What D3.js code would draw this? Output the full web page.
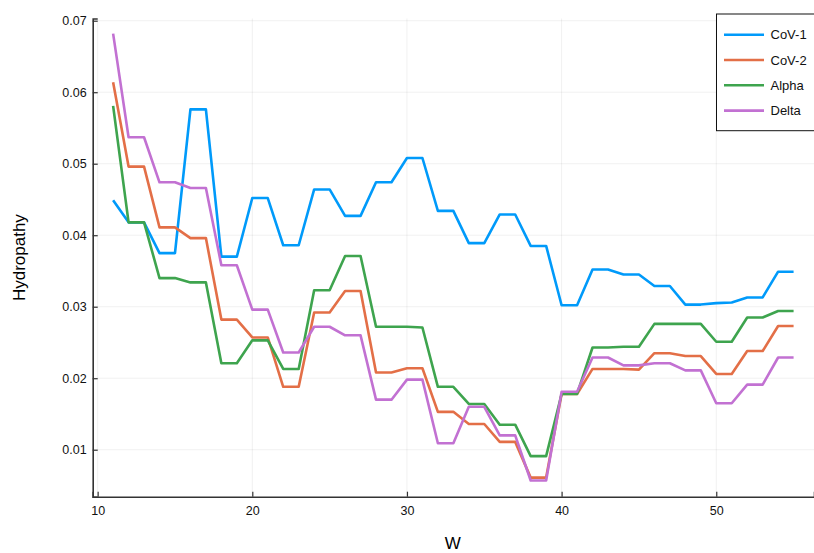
<!DOCTYPE html>
<html>
<head>
<meta charset="utf-8">
<script src="https://cdn.jsdelivr.net/npm/d3@7"></script>
<style>
  html, body { margin: 0; padding: 0; background: #fff; }
  svg { display: block; font-family: "Liberation Sans", Arial, sans-serif; }
</style>
</head>
<body>
<div id="grafo"></div>
<script>
// W = 11..55
const ventanas = d3.range(11, 56);

const cov1 = [0.0449, 0.0418, 0.0418, 0.0375, 0.0375, 0.0576, 0.0576, 0.0370, 0.0370, 0.0452,
  0.0452, 0.0386, 0.0386, 0.0464, 0.0464, 0.0427, 0.0427, 0.0474, 0.0474, 0.0508,
  0.0508, 0.0434, 0.0434, 0.0389, 0.0389, 0.0429, 0.0429, 0.0385, 0.0385, 0.0302,
  0.0302, 0.0352, 0.0352, 0.0345, 0.0345, 0.0329, 0.0329, 0.0303, 0.0303, 0.0305,
  0.0306, 0.0313, 0.0313, 0.0349, 0.0349];

const cov2 = [0.0614, 0.0496, 0.0496, 0.0411, 0.0411, 0.0396, 0.0396, 0.0282, 0.0282, 0.0257,
  0.0257, 0.0188, 0.0188, 0.0292, 0.0292, 0.0322, 0.0322, 0.0208, 0.0208, 0.0214,
  0.0214, 0.0153, 0.0153, 0.0136, 0.0136, 0.0111, 0.0111, 0.0061, 0.0061, 0.0178,
  0.0178, 0.0213, 0.0213, 0.0213, 0.0212, 0.0235, 0.0235, 0.0231, 0.0231, 0.0206,
  0.0206, 0.0238, 0.0238, 0.0273, 0.0273];

const alpha = [0.0581, 0.0418, 0.0418, 0.0340, 0.0340, 0.0334, 0.0334, 0.0221, 0.0221, 0.0253,
  0.0253, 0.0213, 0.0213, 0.0323, 0.0323, 0.0371, 0.0371, 0.0272, 0.0272, 0.0272,
  0.0271, 0.0188, 0.0188, 0.0164, 0.0164, 0.0135, 0.0135, 0.0091, 0.0091, 0.0178,
  0.0178, 0.0243, 0.0243, 0.0244, 0.0244, 0.0276, 0.0276, 0.0276, 0.0276, 0.0251,
  0.0251, 0.0285, 0.0285, 0.0294, 0.0294];

const delta = [0.0682, 0.0537, 0.0537, 0.0474, 0.0474, 0.0466, 0.0466, 0.0358, 0.0358, 0.0296,
  0.0296, 0.0236, 0.0236, 0.0272, 0.0272, 0.0260, 0.0260, 0.0170, 0.0170, 0.0198,
  0.0198, 0.0109, 0.0109, 0.0160, 0.0160, 0.0120, 0.0120, 0.0057, 0.0057, 0.0181,
  0.0181, 0.0229, 0.0229, 0.0218, 0.0218, 0.0221, 0.0221, 0.0211, 0.0211, 0.0165,
  0.0165, 0.0191, 0.0191, 0.0229, 0.0229];

const nombres = ['CoV-1', 'CoV-2', 'Alpha', 'Delta'];
const colores = ['#009AFA', '#E36F47', '#3EA44E', '#C271D2'];
const xTicks = [10, 20, 30, 40, 50];
const yTicks = [0.01, 0.02, 0.03, 0.04, 0.05, 0.06, 0.07];

const series = [cov1, cov2, alpha, delta].map((vals, i) => ({
  nombre: nombres[i],
  color: colores[i],
  puntos: vals.map((v, j) => ({ w: ventanas[j], v }))
}));

const width = 814, height = 553;
const m = { left: 92.7, right: 0, top: 18.5, bottom: 56.3 };

const svg = d3.select('#grafo')
  .append('svg')
  .attr('width', width)
  .attr('height', height);

const x = d3.scaleLinear().domain([9.68, 56.32]).range([m.left, width - m.right]);
const y = d3.scaleLinear().domain([0.00343, 0.07031]).range([height - m.bottom, m.top]);

// grid
svg.append('g')
  .selectAll('line.gx')
  .data(xTicks)
  .join('line')
  .attr('x1', d => x(d)).attr('x2', d => x(d))
  .attr('y1', m.top).attr('y2', height - m.bottom)
  .attr('stroke', '#000').attr('stroke-opacity', 0.08).attr('stroke-width', 0.8);

svg.append('g')
  .selectAll('line.gy')
  .data(yTicks)
  .join('line')
  .attr('x1', m.left).attr('x2', width)
  .attr('y1', d => y(d)).attr('y2', d => y(d))
  .attr('stroke', '#000').attr('stroke-opacity', 0.08).attr('stroke-width', 0.8);

// axes
const xAxis = d3.axisBottom(x).tickValues(xTicks).tickSize(-5).tickPadding(9).tickFormat(d3.format('d'));
const yAxis = d3.axisLeft(y).tickValues(yTicks).tickSize(-5).tickPadding(6).tickFormat(d3.format('.2f'));

const gx = svg.append('g')
  .attr('transform', `translate(0,${height - m.bottom})`)
  .call(xAxis);
const gy = svg.append('g')
  .attr('transform', `translate(${m.left},0)`)
  .call(yAxis);

[gx, gy].forEach(g => {
  g.select('.domain').attr('stroke', '#333').attr('stroke-width', 1.6);
  g.selectAll('.tick line').attr('stroke', '#333').attr('stroke-width', 1.2);
  g.selectAll('.tick text')
    .attr('fill', '#111')
    .style('font-size', '12.5px')
    .style('font-family', '"Liberation Sans", Arial, sans-serif');
});

// lines
const linea = d3.line().x(d => x(d.w)).y(d => y(d.v));

svg.append('g')
  .selectAll('path')
  .data(series)
  .join('path')
  .attr('d', d => linea(d.puntos))
  .attr('fill', 'none')
  .attr('stroke', d => d.color)
  .attr('stroke-width', 2.6)
  .attr('stroke-linejoin', 'round');

// labels
svg.append('text')
  .attr('x', (m.left + width) / 2 - 0.5)
  .attr('y', 549)
  .attr('text-anchor', 'middle')
  .style('font-size', '17px')
  .text('W');

svg.append('text')
  .attr('transform', `translate(25,${(m.top + height - m.bottom) / 2}) rotate(-90)`)
  .attr('text-anchor', 'middle')
  .style('font-size', '17px')
  .text('Hydropathy');

// legend
const ley = svg.append('g').attr('transform', 'translate(716.5,14)');
ley.append('rect')
  .attr('width', 110).attr('height', 116.7)
  .attr('fill', '#fff').attr('stroke', '#111').attr('stroke-width', 1);

const item = ley.selectAll('g.item')
  .data(series)
  .join('g')
  .attr('transform', (d, i) => `translate(0,${20.7 + i * 25.3})`);

item.append('line')
  .attr('x1', 7.5).attr('x2', 47.5)
  .attr('stroke', d => d.color).attr('stroke-width', 2.6);

item.append('text')
  .attr('x', 54)
  .attr('y', 4.5)
  .style('font-size', '13px')
  .attr('fill', '#111')
  .text(d => d.nombre);
</script>
</body>
</html>
